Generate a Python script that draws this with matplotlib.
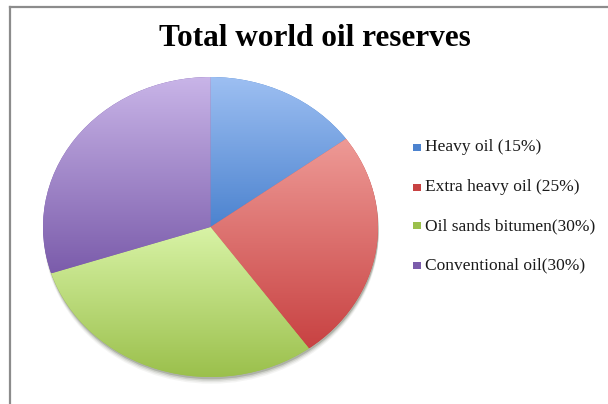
import matplotlib
matplotlib.use("Agg")
import matplotlib.pyplot as plt
import numpy as np
from matplotlib.colors import LinearSegmentedColormap
from matplotlib.patches import Rectangle, Ellipse
from matplotlib.lines import Line2D

# Data
title = "Total world oil reserves"
categories = ["Heavy oil (15%)", "Extra heavy oil (25%)",
              "Oil sands bitumen(30%)", "Conventional oil(30%)"]
shares = [15, 25, 30, 30]
light_colors = ["#9dbff2", "#ee9a96", "#d8f3a6", "#c9b5e8"]
dark_colors = ["#4c83cf", "#c84242", "#9bc04c", "#7b5cab"]

W, H = 608, 404
fig = plt.figure(figsize=(W / 100, H / 100), dpi=100)
fig.patch.set_facecolor("white")


def fx(px):
    return px / W


def fy(py):
    return 1 - py / H


# Outer frame (top and left edges)
fig.add_artist(Line2D([fx(9.5), fx(9.5)], [fy(7), fy(H + 2)], color="#8c8c8c", lw=1.6,
                      transform=fig.transFigure))
fig.add_artist(Line2D([fx(9.5), fx(W + 2)], [fy(7), fy(7)], color="#8c8c8c", lw=1.6,
                      transform=fig.transFigure))

fig.text(fx(315), fy(39), title, ha="center", va="center",
         fontsize=22.5, fontweight="bold", family="Liberation Serif", color="black")

# Pie (tilted, so drawn in an axes with a non-square aspect)
cx, cy = (43 + 378) / 2, (77 + 377) / 2
rx, ry = (378 - 43) / 2, (377 - 77) / 2
m = 1.15
ax = fig.add_axes([fx(cx - rx * m), fy(cy + ry * m), 2 * rx * m / W, 2 * ry * m / H])
ax.axis("off")

# soft shadow under the pie
for dy, a in [(0.045, 0.05), (0.035, 0.08), (0.025, 0.12), (0.015, 0.2)]:
    ax.add_patch(Ellipse((0.004, -dy), 2.0, 2.0, facecolor="#303a20", alpha=a, lw=0))

wedges, _ = ax.pie(shares, startangle=90, counterclock=False, radius=1,
                   colors=dark_colors, wedgeprops=dict(linewidth=0))

grad = np.linspace(0, 1, 256).reshape(-1, 1)
for w, c0, c1 in zip(wedges, light_colors, dark_colors):
    bb = w.get_path().get_extents()
    cmap = LinearSegmentedColormap.from_list("g", [c0, c1])
    im = ax.imshow(grad, cmap=cmap, extent=[bb.x0, bb.x1, bb.y0, bb.y1],
                   origin="upper", aspect="auto", zorder=w.get_zorder() + 0.1,
                   interpolation="bilinear")
    im.set_clip_path(w)

ax.set_aspect("auto")
ax.set_xlim(-m, m)
ax.set_ylim(-m, m)

# Legend
row_y = [147, 187, 226, 265]
for label, c0, c1, y in zip(categories, light_colors, dark_colors, row_y):
    fig.add_artist(Rectangle((fx(413), fy(y + 3.5)), 8 / W, 7 / H,
                             facecolor=c1, edgecolor="none", transform=fig.transFigure))
    fig.text(fx(425), fy(y), label, ha="left", va="center", fontsize=12.5,
             family="Liberation Serif", color="#1a1a1a")

fig.savefig("out.png", dpi=100, facecolor="white")
